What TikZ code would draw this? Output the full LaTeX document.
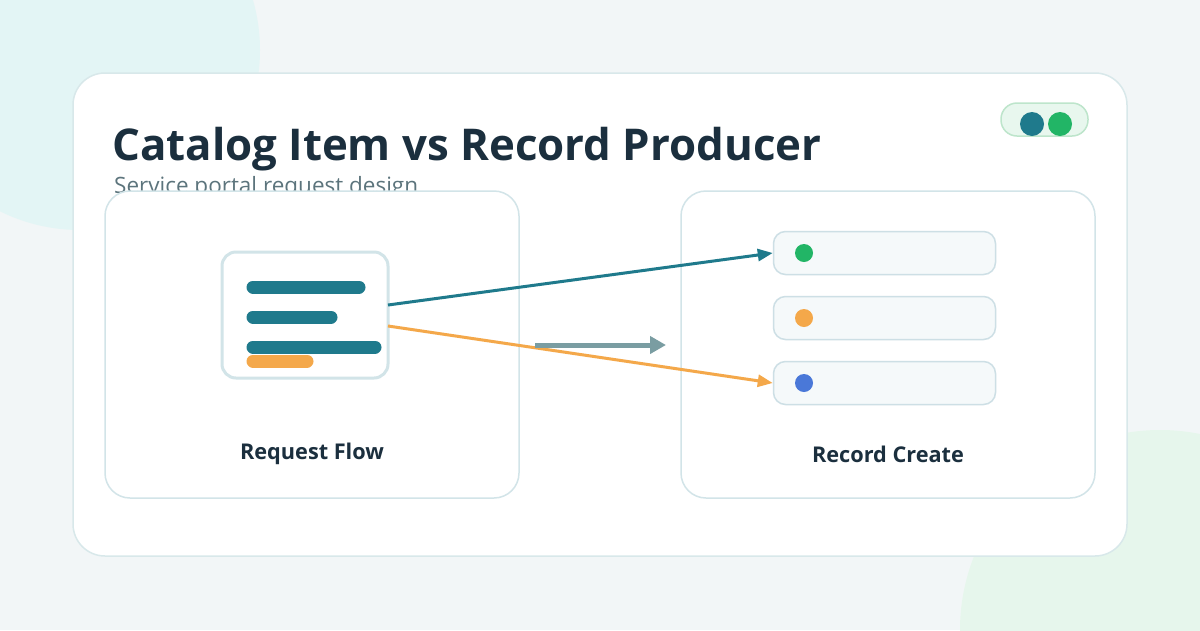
\documentclass[tikz,border=0pt]{standalone}
\usepackage{fontspec}
\setmainfont{Open Sans}
\usetikzlibrary{arrows.meta}
\definecolor{bg}{HTML}{F2F6F7}
\definecolor{cyanblob}{HTML}{E3F5F5}
\definecolor{greenblob}{HTML}{E6F6EC}
\definecolor{cardline}{HTML}{D8E8EA}
\definecolor{panelline}{HTML}{D2E4E8}
\definecolor{ink}{HTML}{1B2F3E}
\definecolor{subink}{HTML}{5C747C}
\definecolor{teal}{HTML}{1F7A8C}
\definecolor{orange}{HTML}{F4A84A}
\definecolor{grayarrow}{HTML}{7A9DA2}
\definecolor{itemfill}{HTML}{F5F9FA}
\definecolor{itemline}{HTML}{CDDFE5}
\definecolor{dotgreen}{HTML}{22B566}
\definecolor{dotblue}{HTML}{4A78D8}
\definecolor{pillfill}{HTML}{E8F7EE}
\definecolor{pillline}{HTML}{BDE5CB}
\tikzset{
  panel/.style={draw=panelline, line width=1.5pt, fill=white, rounded corners=25pt},
  itembox/.style={draw=itemline, line width=1.5pt, fill=itemfill, rounded corners=12pt},
  bar/.style={line width=13pt, line cap=round},
  flow/.style={line width=3pt, -{Triangle[length=15pt,width=12pt]}},
  lbl/.style={font=\bfseries\fontsize{21.7}{25}\selectfont, text=ink, anchor=base},
  dot/.style={circle, inner sep=0pt, minimum size=18pt}
}
\begin{document}
\begin{tikzpicture}[x=1pt,y=-1pt]
\useasboundingbox (0,0) rectangle (1200,630);
\fill[bg] (0,0) rectangle (1200,630);
\begin{scope}
\clip (0,0) rectangle (1200,630);
\fill[cyanblob] (80,50) circle (180);
\fill[greenblob] (1160,630) circle (200);
\end{scope}
% main card
\path[draw=cardline, line width=1.5pt, fill=white, rounded corners=32pt] (73,73) rectangle (1127,556);
% title
\node[anchor=base west, inner sep=0pt, font=\bfseries\fontsize{43.8}{52}\selectfont, text=ink] (title) at (112,160) {Catalog Item vs Record Producer};
\node[anchor=base west, inner sep=0pt, font=\fontsize{22.5}{26}\selectfont, text=subink] (sub) at (114,193) {Service portal request design};
% toggle pill
\path[draw=pillline, line width=1.5pt, fill=pillfill, rounded corners=16pt] (1001,103) rectangle (1088,136);
\node[dot, fill=teal, minimum size=24pt] (t1) at (1032,124) {};
\node[dot, fill=dotgreen, minimum size=24pt] (t2) at (1060,124) {};
% panels
\path[panel] (105,191) rectangle (519,498);
\path[panel] (681,191) rectangle (1095,498);
% document icon
\node[draw=panelline, line width=3pt, fill=white, rounded corners=14pt, minimum width=166pt, minimum height=126pt, inner sep=0pt] (doc) at (305,315) {};
\draw[bar, teal] (253,287) -- (359,287);
\draw[bar, teal] (253,317) -- (331,317);
\draw[bar, orange] (253,361) -- (307,361);
\draw[bar, teal] (253,347) -- (375,347);
% list items
\node[itembox, minimum width=222pt, minimum height=43pt, inner sep=0pt] (i1) at (884.5,253) {};
\node[itembox, minimum width=222pt, minimum height=43pt, inner sep=0pt] (i2) at (884.5,318) {};
\node[itembox, minimum width=222pt, minimum height=43pt, inner sep=0pt] (i3) at (884.5,383) {};
\node[dot, fill=dotgreen] (d1) at (804,253) {};
\node[dot, fill=orange] (d2) at (804,318) {};
\node[dot, fill=dotblue] (d3) at (804,383) {};
% connectors
\coordinate (s1) at (388,305);
\coordinate (s2) at (388,326);
\draw[flow, teal] (s1) -- (i1.west);
\draw[flow, orange] (s2) -- (i3.west);
\coordinate (g1) at (535,345);
\coordinate (g2) at (666,345);
\draw[line width=5pt, grayarrow, -{Triangle[length=16pt,width=17pt]}] (g1) -- (g2);
% labels
\node[lbl] (l1) at (312,459) {Request Flow};
\node[lbl] (l2) at (888,462) {Record Create};
\end{tikzpicture}
\end{document}
